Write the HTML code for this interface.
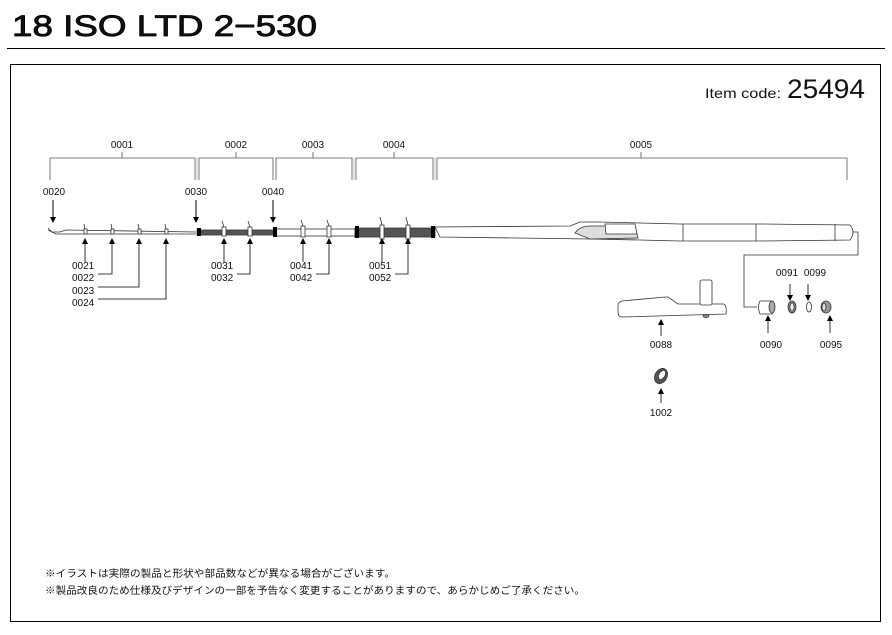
<!DOCTYPE html>
<html><head><meta charset="utf-8"><style>
body{margin:0;background:#fff;width:892px;height:635px;overflow:hidden}
svg{display:block}
text{font-family:"Liberation Sans",Arial,sans-serif;fill:#111}
.s{font-size:10px}
</style></head><body>
<svg width="892" height="635" viewBox="0 0 892 635" xmlns="http://www.w3.org/2000/svg">
<text x="12" y="36" style="font-size:30px" stroke="#000" stroke-width="0.8" textLength="305" lengthAdjust="spacingAndGlyphs">18 ISO LTD 2−530</text>
<line x1="7" y1="48.5" x2="885" y2="48.5" stroke="#000" stroke-width="1"/>
<rect x="10.5" y="64.5" width="870" height="557" fill="none" stroke="#000" stroke-width="1"/>
<text x="705" y="98" style="font-size:14px" textLength="76" lengthAdjust="spacingAndGlyphs">Item code:</text>
<text x="787" y="98" style="font-size:27px" textLength="78" lengthAdjust="spacingAndGlyphs">25494</text>

<g stroke="#555" stroke-width="0.8" fill="none">
<polyline points="50,180 50,158 195,158 195,180"/><line x1="122" y1="158" x2="122" y2="152"/>
<polyline points="199,180 199,158 273,158 273,180"/><line x1="236" y1="158" x2="236" y2="152"/>
<polyline points="276,180 276,158 352,158 352,180"/><line x1="313" y1="158" x2="313" y2="152"/>
<polyline points="356,180 356,158 433,158 433,180"/><line x1="394" y1="158" x2="394" y2="152"/>
<polyline points="437,180 437,158 847,158 847,180"/><line x1="641" y1="158" x2="641" y2="152"/>
</g>
<g stroke="#bbb" stroke-width="0.8">
<line x1="197" y1="158" x2="197" y2="180"/><line x1="354" y1="158" x2="354" y2="180"/><line x1="435" y1="158" x2="435" y2="180"/>
</g>
<g class="s" text-anchor="middle">
<text x="122" y="148">0001</text><text x="236" y="148">0002</text><text x="313" y="148">0003</text><text x="394" y="148">0004</text><text x="641" y="148">0005</text>
<text x="54" y="195">0020</text><text x="196" y="195">0030</text><text x="273" y="195">0040</text>
</g>
<g stroke="#000" stroke-width="1">
<line x1="53" y1="200" x2="53" y2="218"/><line x1="196" y1="200" x2="196" y2="218"/><line x1="273" y1="200" x2="273" y2="218"/>
</g>
<g fill="#000"><polygon points="50,217 56,217 53,223"/><polygon points="193,217 199,217 196,223"/><polygon points="270,217 276,217 273,223"/></g>

<g stroke="#333" stroke-width="0.8">
<path d="M48,228 L52,232 L60,232 L66,230 L196,232" fill="none"/>
<path d="M48,230 L56,234 L196,234" fill="none"/>
<rect x="197" y="230" width="78" height="5" fill="#555"/>
<rect x="275" y="229" width="80" height="7" fill="#fff"/>
<rect x="355" y="228" width="80" height="9" fill="#555"/>
<path d="M435,227 L570,226 L580,222 L600,222 L640,223 L680,224 L760,224 L850,225 Q856,232 850,240 L760,241 L680,241 L640,240 L590,239 L440,237 Z" fill="#fff"/>
<path d="M575,233 Q580,226 590,226 L635,226 L638,238 L590,239 Z" fill="#ddd"/>
<path d="M605,224 L635,224 L637,234 L606,234 Z" fill="#fff"/>
<line x1="683" y1="224" x2="683" y2="241"/><line x1="756" y1="224" x2="756" y2="241"/><line x1="835" y1="224" x2="835" y2="241"/>
</g>
<g fill="#000"><rect x="197" y="228" width="4" height="8"/><rect x="273" y="227" width="4" height="10"/><rect x="355" y="226" width="4" height="12"/><rect x="431" y="226" width="4" height="12"/></g>
<g stroke="#333" stroke-width="0.8" fill="#fff">
<rect x="84" y="229" width="3" height="5"/><rect x="111" y="229" width="3" height="5"/><rect x="138" y="229" width="3" height="5"/><rect x="165" y="229" width="3" height="5"/>
<rect x="222" y="227" width="4" height="9"/><rect x="248" y="227" width="4" height="9"/>
<rect x="301" y="226" width="4" height="11"/><rect x="327" y="226" width="4" height="11"/>
<rect x="380" y="225" width="4" height="14"/><rect x="406" y="225" width="4" height="14"/>
<path d="M85,229 L84,224 M112,229 L111,224 M139,229 L138,224 M166,229 L165,224 M224,227 L222,221 M250,227 L248,221 M303,226 L301,220 M329,226 L327,220 M382,225 L380,217 M408,225 L406,217" fill="none"/>
</g>
<g stroke="#000" stroke-width="0.8" fill="none">
<line x1="85" y1="242" x2="85" y2="262"/>
<polyline points="98,274 112,274 112,242"/><polyline points="98,287 139,287 139,242"/><polyline points="98,299 166,299 166,242"/>
<line x1="224" y1="242" x2="224" y2="262"/><polyline points="237,274 250,274 250,242"/>
<line x1="303" y1="242" x2="303" y2="262"/><polyline points="316,274 329,274 329,242"/>
<line x1="382" y1="242" x2="382" y2="262"/><polyline points="395,274 408,274 408,242"/>
</g>
<g fill="#000">
<polygon points="82,244 88,244 85,238"/><polygon points="109,244 115,244 112,238"/><polygon points="136,244 142,244 139,238"/><polygon points="163,244 169,244 166,238"/>
<polygon points="221,244 227,244 224,238"/><polygon points="247,244 253,244 250,238"/><polygon points="300,244 306,244 303,238"/><polygon points="326,244 332,244 329,238"/>
<polygon points="379,244 385,244 382,238"/><polygon points="405,244 411,244 408,238"/>
</g>
<g class="s">
<text x="72" y="269">0021</text><text x="72" y="281">0022</text><text x="72" y="294">0023</text><text x="72" y="306">0024</text>
<text x="211" y="269">0031</text><text x="211" y="281">0032</text>
<text x="290" y="269">0041</text><text x="290" y="281">0042</text>
<text x="369" y="269">0051</text><text x="369" y="281">0052</text>
</g>

<polyline points="853,232 858,232 858,255 744,255 744,307 757,307" fill="none" stroke="#333" stroke-width="0.8"/>
<g stroke="#333" stroke-width="0.8">
<path d="M618,306 Q618,302 622,301 L665,297 L668,297 L678,304 L724,304 Q727,306 726,314 L622,317 Q618,317 618,312 Z" fill="#fff"/>
<rect x="700" y="280" width="12" height="25" rx="2" fill="#fff"/>
<ellipse cx="706" cy="316" rx="3" ry="1.5" fill="#888"/>
<path d="M760,301 L772,301 Q776,307 772,314 L760,314 Q757,307 760,301 Z" fill="#fff"/>
<ellipse cx="772" cy="307" rx="3" ry="6" fill="#aaa"/>
<ellipse cx="792" cy="307" rx="4" ry="6" fill="#888"/><ellipse cx="792" cy="307" rx="2" ry="4" fill="#fff"/>
<ellipse cx="809" cy="307" rx="2.5" ry="5" fill="#fff"/>
<ellipse cx="826" cy="307" rx="5" ry="6" fill="#999"/><ellipse cx="824" cy="307" rx="2" ry="4" fill="#ddd"/>
<ellipse cx="661" cy="376" rx="6" ry="8" transform="rotate(30 661 376)" fill="#555"/>
<ellipse cx="662" cy="375" rx="3" ry="5" transform="rotate(30 662 375)" fill="#fff"/>
</g>
<g stroke="#000" stroke-width="0.8">
<line x1="661" y1="324" x2="661" y2="336"/><line x1="768" y1="320" x2="768" y2="333"/><line x1="830" y1="320" x2="830" y2="333"/>
<line x1="790" y1="284" x2="790" y2="296"/><line x1="808" y1="284" x2="808" y2="296"/><line x1="661" y1="394" x2="661" y2="403"/>
</g>
<g fill="#000">
<polygon points="658,325 664,325 661,319"/><polygon points="765,321 771,321 768,315"/><polygon points="827,321 833,321 830,315"/>
<polygon points="787,295 793,295 790,301"/><polygon points="805,295 811,295 808,301"/><polygon points="658,394 664,394 661,388"/>
</g>
<g class="s" text-anchor="middle">
<text x="661" y="348">0088</text><text x="771" y="348">0090</text><text x="831" y="348">0095</text>
<text x="787" y="276">0091</text><text x="815" y="276">0099</text><text x="661" y="416">1002</text>
</g>
<g style="font-size:10px;font-family:'Liberation Sans','Noto Sans CJK JP',sans-serif">
<text x="45" y="577" textLength="350" lengthAdjust="spacingAndGlyphs">※イラストは実際の製品と形状や部品数などが異なる場合がございます。</text>
<text x="45" y="594" textLength="540" lengthAdjust="spacingAndGlyphs">※製品改良のため仕様及びデザインの一部を予告なく変更することがありますので、あらかじめご了承ください。</text>
</g>
</svg>
</body></html>
